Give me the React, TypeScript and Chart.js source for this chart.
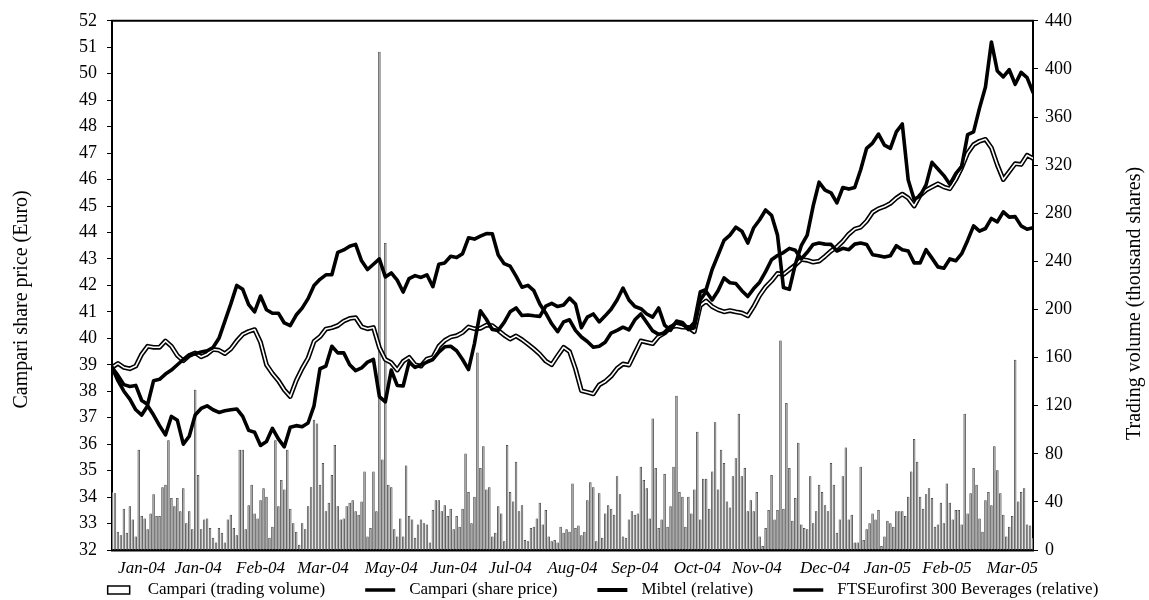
import React, { useEffect, useRef } from "react";
import { Chart, registerables } from "chart.js";

Chart.register(...registerables);

// ---- data ----
const TICK_DAYS = [10, 29, 50, 71, 94, 115, 134, 155, 176, 197, 217, 240, 261, 281, 303];
const TICK_LABELS = ["Jan-04", "Jan-04", "Feb-04", "Mar-04", "May-04", "Jun-04", "Jul-04", "Aug-04", "Sep-04", "Oct-04", "Nov-04", "Dec-04", "Jan-05", "Feb-05", "Mar-05"];
const LAST_DAY = 310;
const LINE_STEP = 2; // trading days between line samples

const CAMPARI_PRICE = [
  38.9, 38.4, 38.0, 37.7, 37.3, 37.1, 37.45, 37.1, 36.7, 36.35,
  37.05, 36.9, 36.0, 36.3, 37.1, 37.35, 37.45, 37.3, 37.2, 37.26,
  37.3, 37.33, 37.05, 36.52, 36.45, 35.95, 36.1, 36.6, 36.2, 35.9,
  36.64, 36.7, 36.66, 36.8, 37.45, 38.85, 38.95, 39.7, 39.45, 39.45,
  39.0, 38.78, 38.88, 39.1, 39.2, 37.8, 37.6, 38.8, 38.22, 38.2,
  39.1, 38.9, 39.0, 39.1, 39.2, 39.48, 39.68, 39.7, 39.53, 39.2,
  38.82, 39.8, 41.04, 40.72, 40.33, 40.3, 40.6, 41.0, 41.15, 40.86,
  40.88, 40.85, 40.83, 41.22, 41.32, 41.2, 41.26, 41.52, 41.3, 40.4,
  40.8, 40.92, 40.62, 40.85, 41.1, 41.45, 41.9, 41.45, 41.2, 41.12,
  40.92, 40.8, 41.15, 40.5, 40.3, 40.65, 40.6, 40.35, 40.6, 41.75,
  41.85, 42.6, 43.15, 43.7, 43.9, 44.2, 44.05, 43.6, 44.18, 44.48,
  44.85, 44.65, 43.9, 41.92, 41.85, 42.8, 43.5, 43.9, 45.0, 45.9,
  45.6, 45.5, 45.12, 45.7, 45.64, 45.7, 46.37, 47.18, 47.38, 47.72,
  47.3, 47.18, 47.8, 48.1, 45.98, 45.25, 45.38, 45.8, 46.65, 46.4,
  46.15, 45.82, 46.22, 46.5, 47.7, 47.8, 48.7, 49.5, 51.2, 50.1,
  49.88, 50.15, 49.6, 50.05, 49.85, 49.3,
];

const MIBTEL = [
  38.9, 39.05, 38.9, 38.85, 38.95, 39.4, 39.7, 39.66, 39.66, 39.9,
  39.7, 39.35, 39.15, 39.35, 39.45, 39.3, 39.4, 39.58, 39.55, 39.42,
  39.6, 39.9, 40.15, 40.26, 40.33, 39.85, 39.0, 38.67, 38.4, 38.05,
  37.8, 38.4, 38.86, 39.25, 39.88, 40.06, 40.35, 40.4, 40.48, 40.65,
  40.75, 40.78, 40.44, 40.36, 40.41, 39.65, 39.2, 39.08, 38.8, 39.13,
  39.28, 39.0, 38.95, 39.22, 39.28, 39.7, 39.92, 40.05, 40.1, 40.22,
  40.43, 40.36, 40.38, 40.5, 40.48, 40.3, 40.12, 39.97, 40.09, 39.95,
  39.78, 39.6, 39.4, 39.14, 39.0, 39.34, 39.66, 39.5, 38.85, 38.02,
  37.96, 37.9, 38.24, 38.37, 38.57, 38.86, 39.03, 38.99, 39.45, 39.9,
  39.85, 39.8, 40.07, 40.2, 40.42, 40.47, 40.42, 40.41, 40.25, 41.24,
  41.41, 41.2, 41.08, 41.0, 41.05, 41.0, 40.96, 40.85, 41.2, 41.62,
  41.94, 42.17, 42.45, 42.42, 42.6, 42.77, 42.98, 42.95, 42.88, 42.92,
  43.1, 43.3, 43.45, 43.67, 43.94, 44.13, 44.2, 44.43, 44.76, 44.9,
  44.98, 45.1, 45.3, 45.45, 45.3, 45.0, 45.4, 45.6, 45.72, 45.84,
  45.72, 45.65, 46.0, 46.45, 47.0, 47.32, 47.45, 47.52, 47.2, 46.55,
  46.0, 46.3, 46.6, 46.57, 46.92, 46.8,
];

const FTSE_BEVERAGES = [
  38.9, 38.6, 38.25, 38.18, 38.22, 37.65, 37.5, 38.4, 38.45, 38.65,
  38.8, 39.0, 39.2, 39.37, 39.42, 39.48, 39.53, 39.65, 40.0, 40.65,
  41.3, 42.0, 41.85, 41.27, 41.0, 41.6, 41.08, 40.95, 40.95, 40.58,
  40.48, 40.88, 41.14, 41.5, 42.0, 42.23, 42.4, 42.4, 43.25, 43.34,
  43.48, 43.55, 42.93, 42.6, 42.8, 43.0, 42.32, 42.47, 42.2, 41.75,
  42.26, 42.37, 42.3, 42.4, 41.95, 42.8, 42.85, 43.1, 43.05, 43.2,
  43.8, 43.75, 43.86, 43.96, 43.95, 43.15, 42.82, 42.73, 42.35, 41.93,
  42.0, 41.8, 41.3, 40.95, 40.55, 40.25, 40.62, 40.7, 40.3, 40.05,
  39.88, 39.66, 39.7, 39.85, 40.2, 40.3, 40.42, 40.32, 40.7, 40.92,
  40.6, 40.28, 40.15, 40.2, 40.42, 40.6, 40.55, 40.33, 40.4, 41.45,
  41.77, 41.45, 41.8, 42.28, 42.1, 42.07, 41.8, 41.58, 41.88, 42.12,
  42.52, 42.97, 43.13, 43.24, 43.4, 43.33, 43.0, 43.25, 43.55, 43.6,
  43.56, 43.55, 43.3, 43.4, 43.35, 43.56, 43.6, 43.55, 43.16, 43.12,
  43.07, 43.12, 43.5, 43.35, 43.3, 42.85, 42.85, 43.35, 43.03, 42.7,
  42.65, 43.0, 42.93, 43.2, 43.7, 44.25, 44.05, 44.15, 44.53, 44.4,
  44.78, 44.58, 44.6, 44.25, 44.12, 44.18,
];

// thousand shares, one bar per trading day
const VOLUME = [
  48,
  47, 15, 12, 34, 14, 36, 25, 11, 83, 28,
  26, 17, 30, 46, 28, 28, 52, 54, 91, 43,
  36, 43, 32, 51, 22, 32, 17, 133, 62, 17,
  25, 26, 18, 10, 6, 18, 14, 6, 25, 29,
  18, 12, 83, 83, 17, 37, 54, 30, 26, 41,
  51, 44, 10, 19, 91, 36, 58, 50, 83, 34,
  22, 15, 4, 22, 17, 36, 52, 108, 105, 54,
  72, 32, 39, 62, 87, 36, 25, 26, 36, 39,
  41, 32, 29, 40, 65, 11, 18, 65, 32, 414,
  75, 255, 54, 52, 17, 11, 26, 11, 70, 28,
  25, 10, 21, 25, 22, 21, 6, 33, 41, 41,
  32, 37, 28, 34, 17, 28, 19, 34, 80, 48,
  22, 44, 164, 68, 86, 50, 52, 11, 14, 36,
  30, 7, 87, 48, 40, 73, 32, 37, 8, 7,
  18, 19, 26, 39, 21, 33, 11, 7, 8, 6,
  19, 14, 17, 15, 55, 18,
  20,
  12, 15, 41, 56, 52, 7, 47, 10, 30, 37,
  34, 29, 61, 46, 11, 10, 25, 32, 29, 30,
  69, 58, 51, 26, 109, 68, 18, 25, 63, 19,
  36, 69, 128, 48, 44, 19, 44, 30, 50, 98,
  25, 59, 59, 34, 65, 106, 50, 83, 72, 40,
  35,
  61, 76, 113, 61, 68, 32, 41, 32, 48, 11,
  3, 18, 33, 62, 25, 33, 174, 34, 122, 68,
  24, 43, 89, 21, 18, 17, 61, 22, 32, 54,
  48, 37, 32, 72, 54, 14, 25, 61, 85, 25,
  29, 6, 6, 69, 8, 17, 22, 30, 25, 33,
  3, 11, 24, 22, 19, 32, 32, 32, 28, 44,
  65, 92, 73, 44, 34, 46, 51, 43, 19, 21,
  39, 22, 55, 39, 25, 33, 33, 21, 113, 30,
  47, 68, 54, 26, 15, 41, 48, 37, 86, 66,
  47, 29, 11, 19, 28, 158, 40, 48, 51, 21,
  20, 10,
];

const LEFT_TITLE = "Campari share price (Euro)";
const RIGHT_TITLE = "Trading volume (thousand shares)";
const LEGEND_LABELS = [
  "Campari (trading volume)",
  "Campari (share price)",
  "Mibtel (relative)",
  "FTSEurofirst 300 Beverages (relative)",
];
const LEGEND_KINDS = ["box", "line", "double", "line"];

const SERIF = '"Liberation Serif", "Times New Roman", serif';

const decorPlugin = {
  id: "decor",
  afterDraw(chart: any) {
    const { ctx, chartArea } = chart;
    ctx.save();
    // top frame line
    ctx.strokeStyle = "#000";
    ctx.lineWidth = 2;
    ctx.beginPath();
    ctx.moveTo(chartArea.left - 1, chartArea.top);
    ctx.lineTo(chartArea.right + 1, chartArea.top);
    ctx.stroke();

    // axis titles (both read bottom-to-top)
    ctx.fillStyle = "#000";
    ctx.font = "20px " + SERIF;
    ctx.textAlign = "center";
    ctx.textBaseline = "middle";
    const cy = (chartArea.top + chartArea.bottom) / 2 + 14;
    ctx.save();
    ctx.translate(22, cy);
    ctx.rotate(-Math.PI / 2);
    ctx.fillText(LEFT_TITLE, 0, 0);
    ctx.restore();
    ctx.save();
    ctx.translate(chart.width - 14, cy + 4);
    ctx.rotate(-Math.PI / 2);
    ctx.fillText(RIGHT_TITLE, 0, 0);
    ctx.restore();

    // legend
    ctx.font = "17px " + SERIF;
    ctx.textAlign = "left";
    const markerW = 30;
    const textGap = 14;
    const itemGap = 40;
    const widths = LEGEND_LABELS.map((t) => ctx.measureText(t).width);
    const total = widths.reduce((a, b) => a + b, 0) + LEGEND_LABELS.length * (markerW + textGap) + (LEGEND_LABELS.length - 1) * itemGap;
    let x = 601 - total / 2;
    const y = 590;
    LEGEND_LABELS.forEach((label, i) => {
      const kind = LEGEND_KINDS[i];
      ctx.strokeStyle = "#000";
      if (kind === "box") {
        ctx.lineWidth = 1.5;
        ctx.fillStyle = "#fff";
        ctx.fillRect(x + 4, y - 4, 22, 8);
        ctx.strokeRect(x + 4, y - 4, 22, 8);
      } else {
        ctx.lineWidth = kind === "double" ? 4 : 3.5;
        ctx.beginPath();
        ctx.moveTo(x, y);
        ctx.lineTo(x + markerW, y);
        ctx.stroke();
      }
      ctx.fillStyle = "#000";
      ctx.fillText(label, x + markerW + textGap, y);
      x += markerW + textGap + widths[i] + itemGap;
    });
    ctx.restore();
  },
};

export default function App() {
  const canvasRef = useRef<HTMLCanvasElement | null>(null);

  useEffect(() => {
    const canvas = canvasRef.current;
    if (!canvas) return;
    const asLine = (arr: number[]) => arr.map((v, i) => ({ x: i * LINE_STEP, y: v }));
    const volData = VOLUME.map((v, i) => ({ x: i, y: v }));

    const lineBase = {
      type: "line",
      yAxisID: "y",
      pointRadius: 0,
      pointHoverRadius: 0,
      tension: 0,
      fill: false,
      borderJoinStyle: "round",
      borderCapStyle: "round",
    };

    const chart = new Chart(canvas, {
      type: "bar",
      data: {
        datasets: [
          { ...lineBase, label: "Campari (share price)", data: asLine(CAMPARI_PRICE), borderColor: "#000", borderWidth: 3.6, order: 1 },
          { ...lineBase, label: "FTSEurofirst 300 Beverages (relative)", data: asLine(FTSE_BEVERAGES), borderColor: "#000", borderWidth: 3.6, order: 2 },
          { ...lineBase, label: "Mibtel (relative) inner", data: asLine(MIBTEL), borderColor: "#fff", borderWidth: 1.6, order: 3 },
          { ...lineBase, label: "Mibtel (relative)", data: asLine(MIBTEL), borderColor: "#000", borderWidth: 4.8, order: 4 },
          {
            type: "bar",
            label: "Campari (trading volume)",
            data: volData,
            yAxisID: "y1",
            backgroundColor: "#a8a8a8",
            borderColor: "#222",
            borderWidth: 0.5,
            barThickness: 1.8,
            grouped: false,
            order: 10,
          },
        ] as any,
      },
      options: {
        animation: false,
        responsive: false,
        devicePixelRatio: 1,
        events: [],
        layout: { padding: { top: 19, left: 0, right: 0, bottom: 0 } },
        plugins: { legend: { display: false }, tooltip: { enabled: false }, title: { display: false } },
        scales: {
          x: {
            type: "linear",
            min: 0,
            max: LAST_DAY,
            offset: false,
            grid: { display: true, drawOnChartArea: false, drawTicks: false, color: "#000" },
            border: { display: true, color: "#000", width: 2.5 },
            afterBuildTicks: (scale: any) => {
              scale.ticks = TICK_DAYS.map((v) => ({ value: v }));
            },
            afterFit: (scale: any) => {
              scale.height = 50;
            },
            ticks: {
              autoSkip: false,
              maxRotation: 0,
              padding: 8,
              color: "#000",
              font: { family: SERIF, size: 17, style: "italic" },
              callback: (value: any) => {
                const k = TICK_DAYS.indexOf(value);
                return k >= 0 ? TICK_LABELS[k] : "";
              },
            },
          },
          y: {
            type: "linear",
            position: "left",
            min: 32,
            max: 52,
            grid: { display: true, drawOnChartArea: false, drawTicks: true, tickLength: 5, color: "#000" },
            border: { display: true, color: "#000", width: 2 },
            afterFit: (scale: any) => {
              scale.width = 112;
            },
            ticks: { stepSize: 1, padding: 10, color: "#000", font: { family: SERIF, size: 18 } },
          },
          y1: {
            type: "linear",
            position: "right",
            min: 0,
            max: 440,
            grid: { display: true, drawOnChartArea: false, drawTicks: true, tickLength: 5, color: "#000" },
            border: { display: true, color: "#000", width: 2 },
            afterFit: (scale: any) => {
              scale.width = 116;
            },
            ticks: { stepSize: 40, padding: 7, color: "#000", font: { family: SERIF, size: 18 } },
          },
        },
      } as any,
      plugins: [decorPlugin],
    });
    return () => chart.destroy();
  }, []);

  return (
    <div style={{ position: "absolute", left: 0, top: 0, width: 1149, height: 600, background: "#fff" }}>
      <canvas ref={canvasRef} width={1149} height={600} style={{ width: 1149, height: 600, display: "block" }} />
    </div>
  );
}
